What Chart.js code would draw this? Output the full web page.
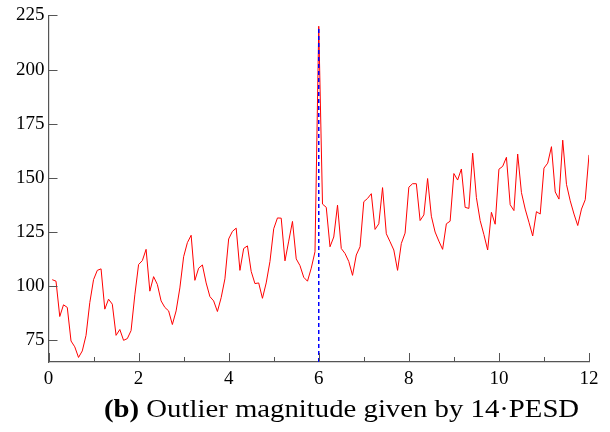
<!DOCTYPE html>
<html>
<head>
<meta charset="utf-8">
<script src="https://cdn.jsdelivr.net/npm/chart.js@4.4.1/dist/chart.umd.min.js"></script>
<style>
  html, body { margin: 0; padding: 0; background: #fff; }
  #wrap { position: relative; width: 610px; height: 432px; }
  #caption {
    position: absolute; left: 104px; top: 394px;
    font-family: 'Liberation Serif', serif; font-size: 25px; color: #000;
    white-space: nowrap; line-height: 29px;
    transform: scaleX(1.15); transform-origin: left center;
  }
</style>
</head>
<body>
<div id="wrap">
  <canvas id="chart" width="610" height="432"></canvas>
  <div id="caption"><b>(b)</b> Outlier magnitude given by 14·PESD</div>
</div>
<script>
// Monthly series, 12 years
const seriesValues = [
  103.0, 102.3, 86.0, 91.4, 90.2, 74.7, 72.0, 67.1, 70.1, 77.3, 92.4, 103.0,
  107.3, 108.0, 89.4, 94.0, 91.7, 77.3, 80.0, 75.0, 75.8, 79.5, 96.0, 110.0,
  111.8, 117.0, 97.7, 104.4, 100.8, 93.2, 90.2, 88.6, 82.3, 88.6, 99.2, 113.6,
  120.1, 123.5, 102.7, 108.3, 109.8, 101.5, 95.2, 93.2, 88.3, 94.7, 103.4, 121.8,
  125.3, 126.8, 107.3, 117.4, 118.6, 106.8, 101.2, 101.5, 94.4, 101.5, 111.4, 126.5,
  131.5, 131.4, 111.7, 120.8, 129.9, 112.6, 109.5, 104.1, 102.3, 108.3, 115.9, 220.0,
  137.9, 136.4, 118.2, 122.7, 137.4, 117.4, 115.1, 111.4, 105.0, 114.4, 118.2, 139.0,
  140.5, 142.7, 126.2, 128.8, 145.5, 124.2, 120.5, 116.7, 107.3, 119.7, 124.5, 145.7,
  147.3, 147.3, 130.3, 132.9, 149.7, 132.3, 125.0, 120.8, 117.0, 128.8, 130.0, 152.0,
  149.0, 154.1, 136.4, 135.9, 161.4, 140.9, 130.3, 123.8, 116.7, 134.1, 128.6, 154.0,
  155.3, 159.5, 137.6, 134.9, 161.0, 143.2, 135.6, 129.5, 123.2, 134.4, 133.3, 154.5,
  156.8, 164.4, 143.5, 140.2, 167.4, 147.0, 139.4, 133.3, 128.0, 135.6, 139.9, 160.6
];
const monthsPerYear = 12;
const outlierTime = 6;
const outlierLine = [65, 220];

const yTicks = [75, 100, 125, 150, 175, 200, 225];
const xTicks = [0, 1, 2, 3, 4, 5, 6, 7, 8, 9, 10, 11, 12];

const seriesPoints = seriesValues.map((v, i) => ({ x: (i + 1) / monthsPerYear, y: v }));
const markerPoints = outlierLine.map(v => ({ x: outlierTime, y: v }));

const axisColor = '#555';
const tickFont = { family: "'Liberation Serif', serif", size: 19 };

// ticks drawn inward like the original plot
const innerTicks = {
  id: 'innerTicks',
  afterDraw(chart) {
    const { ctx, chartArea, scales } = chart;
    ctx.save();
    ctx.strokeStyle = axisColor;
    ctx.lineWidth = 1;
    ctx.beginPath();
    xTicks.forEach(t => {
      const px = Math.round(scales.x.getPixelForValue(t)) + 0.5;
      const len = t % 2 === 0 ? 9 : 5;
      ctx.moveTo(px, chartArea.bottom);
      ctx.lineTo(px, chartArea.bottom - len);
    });
    yTicks.forEach(t => {
      const py = Math.round(scales.y.getPixelForValue(t)) + 0.5;
      ctx.moveTo(chartArea.left, py);
      ctx.lineTo(chartArea.left + 9, py);
    });
    ctx.stroke();
    ctx.restore();
  }
};

new Chart(document.getElementById('chart'), {
  type: 'line',
  data: {
    datasets: [
      {
        data: markerPoints,
        borderColor: '#0000ff',
        borderWidth: 1.5,
        borderDash: [4, 3],
        pointRadius: 0
      },
      {
        data: seriesPoints,
        borderColor: '#ff0000',
        borderWidth: 1,
        pointRadius: 0,
        tension: 0
      }
    ]
  },
  options: {
    responsive: false,
    animation: false,
    layout: { padding: { left: 0, top: 10, right: 21, bottom: 0 } },
    plugins: { legend: { display: false }, tooltip: { enabled: false } },
    scales: {
      x: {
        type: 'linear',
        min: 0,
        max: 12,
        grid: { display: false, drawTicks: false },
        border: { display: true, color: axisColor, width: 1.2 },
        afterBuildTicks: s => { s.ticks = xTicks.map(v => ({ value: v })); },
        afterFit: s => { s.height = 70; },
        ticks: {
          autoSkip: false,
          maxRotation: 0,
          padding: 6,
          color: '#000',
          font: tickFont,
          callback: v => (v % 2 === 0 ? String(v) : '')
        }
      },
      y: {
        min: 65,
        max: 225,
        grid: { display: false, drawTicks: false },
        border: { display: true, color: axisColor, width: 1.2 },
        afterBuildTicks: s => { s.ticks = yTicks.map(v => ({ value: v })); },
        afterFit: s => { s.width = 48.5; },
        ticks: {
          padding: 4,
          color: '#000',
          font: tickFont
        }
      }
    }
  },
  plugins: [innerTicks]
});
</script>
</body>
</html>
